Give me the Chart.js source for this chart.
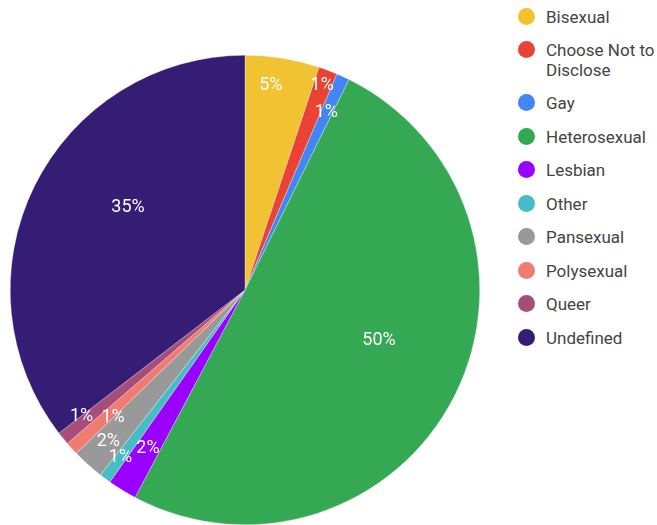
<!DOCTYPE html>
<html>
<head>
<meta charset="utf-8">
<script src="https://cdn.jsdelivr.net/npm/chart.js@4"></script>
<style>
  html, body { margin: 0; padding: 0; background: #fff; }
  #wrap { position: relative; width: 657px; height: 525px; overflow: hidden; }
  #pieBox { position: absolute; left: 0; top: 0; width: 490px; height: 525px; }
  #legend { position: absolute; left: 518px; top: 0; font-family: Roboto, Arial, sans-serif; font-size: 17px; color: #444; }
  .item { position: absolute; left: 0; display: flex; align-items: flex-start; white-space: nowrap; }
  .dot { width: 17px; height: 17px; border-radius: 50%; margin-right: 11px; flex: none; margin-top: 1px; }
  .txt { width: 114px; white-space: normal; line-height: 20px; }
</style>
</head>
<body>
<div id="wrap">
  <div id="pieBox"><canvas id="pie"></canvas></div>
  <div id="legend"></div>
</div>
<script>
// Categories and values (percent share)
const categories = ['Bisexual', 'Choose Not to Disclose', 'Gay', 'Heterosexual', 'Lesbian',
  'Other', 'Pansexual', 'Polysexual', 'Queer', 'Undefined'];
const shares = [5.1, 1.3, 0.9, 50.4, 2.0, 0.8, 2.2, 0.9, 0.9, 35.4];
const sliceColors = ['#f1c232', '#ea4335', '#4285f4', '#34a853', '#9900ff',
  '#46bdc6', '#999999', '#f07b72', '#a64d79', '#351c75'];

// label placement: fraction of radius, and angle nudge in degrees
const labelRadius = [0.88, 0.93, 0.83, 0.61, 0.79, 0.89, 0.87, 0.78, 0.88, 0.61];
const labelNudge = [-2, 0, 0, -6.5, 0, 0, 0, -1.5, 1.5, 9];

const pctLabels = {
  id: 'pctLabels',
  afterDatasetsDraw(chart) {
    const { ctx } = chart;
    const meta = chart.getDatasetMeta(0);
    const total = shares.reduce((a, b) => a + b, 0);
    ctx.save();
    ctx.fillStyle = '#ffffff';
    ctx.font = '18px Roboto, Arial, sans-serif';
    ctx.textAlign = 'center';
    ctx.textBaseline = 'middle';
    meta.data.forEach((arc, i) => {
      const mid = (arc.startAngle + arc.endAngle) / 2 + labelNudge[i] * Math.PI / 180;
      const r = arc.outerRadius * labelRadius[i];
      const x = arc.x + Math.cos(mid) * r;
      const y = arc.y + Math.sin(mid) * r;
      ctx.fillText(Math.round(shares[i] / total * 100) + '%', x, y);
    });
    ctx.restore();
  }
};

new Chart(document.getElementById('pie'), {
  type: 'pie',
  data: {
    labels: categories,
    datasets: [{
      data: shares,
      backgroundColor: sliceColors,
      borderColor: 'rgba(255,255,255,0.6)',
      borderWidth: 0.5
    }]
  },
  options: {
    responsive: true,
    maintainAspectRatio: false,
    animation: false,
    layout: { padding: { top: 55, left: 10, right: 10, bottom: 0 } },
    plugins: {
      legend: { display: false },
      tooltip: { enabled: false }
    }
  },
  plugins: [pctLabels]
});

// legend
const legendEl = document.getElementById('legend');
const rowTops = [7, 40, 93, 127, 160, 194, 227, 261, 294, 328];
categories.forEach((name, i) => {
  const item = document.createElement('div');
  item.className = 'item';
  item.style.top = rowTops[i] + 'px';
  item.innerHTML = '<span class="dot" style="background:' + sliceColors[i] + '"></span>' +
    '<span class="txt">' + name + '</span>';
  legendEl.appendChild(item);
});
</script>
</body>
</html>
